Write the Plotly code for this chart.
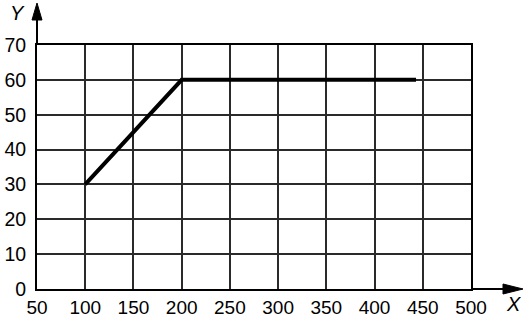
import plotly.graph_objects as go

# data
x_vals = [100, 200, 443]
y_vals = [30, 60, 60]
x_ticks = [50, 100, 150, 200, 250, 300, 350, 400, 450, 500]
y_ticks = [0, 10, 20, 30, 40, 50, 60, 70]

# layout in pixels
WIDTH, HEIGHT = 524, 318
L, R, T, B = 37, 53, 45, 29
PW = WIDTH - L - R
PH = HEIGHT - T - B

def px_x(p):
    return (p - L) / PW

def px_y(p):
    return (HEIGHT - B - p) / PH

FONT = "Liberation Sans, Arial, sans-serif"

fig = go.Figure()
fig.add_trace(go.Scatter(x=x_vals, y=y_vals, mode="lines",
                         line=dict(color="black", width=4), cliponaxis=False,
                         hoverinfo="skip"))

axis_common = dict(showgrid=True, gridcolor="#2a2a2a", gridwidth=1.5,
                   showline=True, linecolor="black", linewidth=2, mirror=True,
                   zeroline=False, ticks="", automargin=False)

fig.update_xaxes(range=[50, 500], tickvals=x_ticks,
                 ticktext=[str(v) for v in x_ticks], ticklabelstandoff=0,
                 tickfont=dict(family=FONT, size=19, color="black"),
                 **axis_common)
fig.update_yaxes(range=[0, 70], tickvals=y_ticks,
                 ticktext=[str(v) for v in y_ticks], ticklabelstandoff=5,
                 tickfont=dict(family=FONT, size=19.5, color="black"),
                 **axis_common)

shapes = []
# y-axis extension and arrow
shapes.append(dict(type="line", xref="paper", yref="paper", x0=0, x1=0,
                   y0=1, y1=px_y(20), line=dict(color="black", width=2)))
shapes.append(dict(type="path", xref="paper", yref="paper",
                   path=f"M {px_x(L-5)} {px_y(20)} L {px_x(L+5)} {px_y(20)} L {px_x(L)} {px_y(3)} Z",
                   fillcolor="black", line=dict(color="black", width=1)))
# x-axis extension and arrow
shapes.append(dict(type="line", xref="paper", yref="paper", x0=1, x1=px_x(503),
                   y0=0, y1=0, line=dict(color="black", width=2)))
shapes.append(dict(type="path", xref="paper", yref="paper",
                   path=f"M {px_x(503)} {px_y(HEIGHT-B-5)} L {px_x(503)} {px_y(HEIGHT-B+5)} L {px_x(523)} {px_y(HEIGHT-B)} Z",
                   fillcolor="black", line=dict(color="black", width=1)))

annotations = [
    dict(text="<i>Y</i>", xref="paper", yref="paper", x=px_x(17), y=px_y(13),
         showarrow=False, font=dict(family=FONT, size=20, color="black"),
         xanchor="center", yanchor="middle"),
    dict(text="<i>X</i>", xref="paper", yref="paper", x=px_x(513), y=px_y(304),
         showarrow=False, font=dict(family=FONT, size=20, color="black"),
         xanchor="center", yanchor="middle"),
]

fig.update_layout(width=WIDTH, height=HEIGHT,
                  margin=dict(l=L, r=R, t=T, b=B, pad=0),
                  paper_bgcolor="white", plot_bgcolor="white",
                  showlegend=False, shapes=shapes, annotations=annotations)

fig.write_html("out.html")
